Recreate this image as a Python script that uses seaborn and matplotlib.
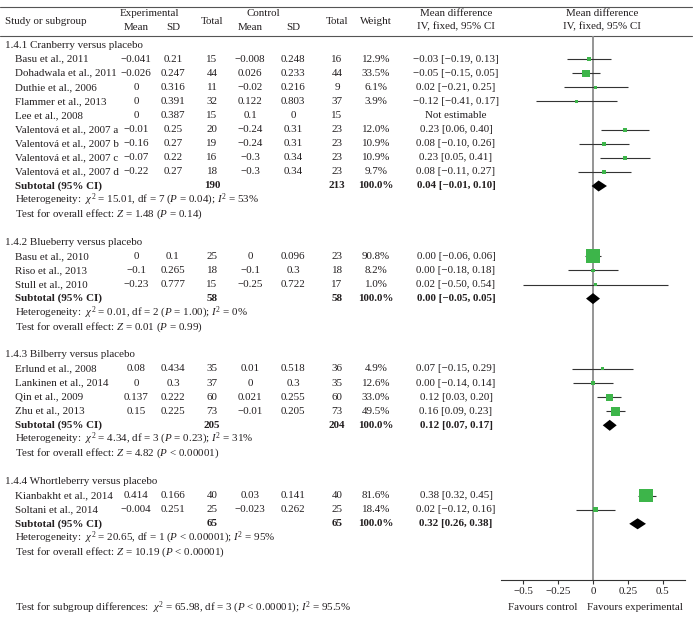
import numpy as np
import pandas as pd
import matplotlib.pyplot as plt
from matplotlib.colors import PowerNorm
import seaborn as sns

# ---- data ----
groups = ["1.4.1 Cranberry versus placebo", "1.4.2 Blueberry versus placebo",
          "1.4.3 Bilberry versus placebo", "1.4.4 Whortleberry versus placebo"]
group_idx = [0]*9 + [1]*3 + [2]*4 + [3]*2
studies = ["Basu et al., 2011", "Dohadwala et al., 2011", "Duthie et al., 2006",
           "Flammer et al., 2013", "Lee et al., 2008", "Valentová et al., 2007 a",
           "Valentová et al., 2007 b", "Valentová et al., 2007 c", "Valentová et al., 2007 d",
           "Basu et al., 2010", "Riso et al., 2013", "Stull et al., 2010",
           "Erlund et al., 2008", "Lankinen et al., 2014", "Qin et al., 2009", "Zhu et al., 2013",
           "Kianbakht et al., 2014", "Soltani et al., 2014"]
exp_mean = [-0.041, -0.026, 0, 0, 0, -0.01, -0.16, -0.07, -0.22,
            0, -0.1, -0.23, 0.08, 0, 0.137, 0.15, 0.414, -0.004]
exp_sd = [0.21, 0.247, 0.316, 0.391, 0.387, 0.25, 0.27, 0.22, 0.27,
          0.1, 0.265, 0.777, 0.434, 0.3, 0.222, 0.225, 0.166, 0.251]
exp_n = [15, 44, 11, 32, 15, 20, 19, 16, 18, 25, 18, 15, 35, 37, 60, 73, 40, 25]
ctl_mean = [-0.008, 0.026, -0.02, 0.122, 0.1, -0.24, -0.24, -0.3, -0.3,
            0, -0.1, -0.25, 0.01, 0, 0.021, -0.01, 0.03, -0.023]
ctl_sd = [0.248, 0.233, 0.216, 0.803, 0, 0.31, 0.31, 0.34, 0.34,
          0.096, 0.3, 0.722, 0.518, 0.3, 0.255, 0.205, 0.141, 0.262]
ctl_n = [16, 44, 9, 37, 15, 23, 23, 23, 23, 23, 18, 17, 36, 35, 60, 73, 40, 25]
weight = [12.9, 33.5, 6.1, 3.9, np.nan, 12.0, 10.9, 10.9, 9.7,
          90.8, 8.2, 1.0, 4.9, 12.6, 33.0, 49.5, 81.6, 18.4]
md = [-0.03, -0.05, 0.02, -0.12, np.nan, 0.23, 0.08, 0.23, 0.08,
      0.00, 0.00, 0.02, 0.07, 0.00, 0.12, 0.16, 0.38, 0.02]
ci_lo = [-0.19, -0.15, -0.21, -0.41, np.nan, 0.06, -0.10, 0.05, -0.11,
         -0.06, -0.18, -0.50, -0.15, -0.14, 0.03, 0.09, 0.32, -0.12]
ci_hi = [0.13, 0.05, 0.25, 0.17, np.nan, 0.40, 0.26, 0.41, 0.27,
         0.06, 0.18, 0.54, 0.29, 0.14, 0.20, 0.23, 0.45, 0.16]

sub_exp_n = [190, 58, 205, 65]
sub_ctl_n = [213, 58, 204, 65]
sub_md = [0.04, 0.00, 0.12, 0.32]
sub_lo = [-0.01, -0.05, 0.07, 0.26]
sub_hi = [0.10, 0.05, 0.17, 0.38]
het_chi2 = [15.01, 0.01, 4.34, 20.65]
het_df = [7, 2, 3, 1]
het_p = ["= 0.04", "= 1.00", "= 0.23", "< 0.00001"]
het_i2 = [53, 0, 31, 95]
z_val = [1.48, 0.01, 4.82, 10.19]
z_p = ["= 0.14", "= 0.99", "< 0.00001", "< 0.00001"]
diff_chi2, diff_df, diff_p, diff_i2 = 65.98, 3, "< 0.00001", 95.5

xticks = [-0.5, -0.25, 0, 0.25, 0.5]

# ---- style ----
sns.set_theme(style="white")
plt.rcParams['font.family'] = ['Liberation Serif', 'DejaVu Serif']
plt.rcParams['mathtext.fontset'] = 'custom'
plt.rcParams['mathtext.rm'] = 'Liberation Serif'
plt.rcParams['mathtext.it'] = 'Liberation Serif:italic'
plt.rcParams['mathtext.bf'] = 'Liberation Serif:bold'

fs = 7.9
tc = '#231f20'
green = '#3db54a'
W, H = 698, 635

def fmt(v):
    return str(v).replace('-', '\u2212')

def fmt2(v):
    return f"{v:.2f}".replace('-', '\u2212')

fig = plt.figure(figsize=(W / 100, H / 100), dpi=100)
bg = fig.add_axes([0, 0, 1, 1])
bg.set_xlim(0, W)
bg.set_ylim(H, 0)
bg.axis('off')

def put(x, y, s, ha='center', bold=False):
    bg.text(x, y, s, ha=ha, va='center', fontsize=fs, color=tc,
            fontweight='bold' if bold else 'normal')

# column centres (pixels)
x_grp, x_st = 5, 15
c_em, c_esd, c_en, c_cm, c_csd, c_cn, c_w, c_ci, c_plot = 136, 173, 212, 250, 293, 337, 376, 456, 602

# header
bg.plot([0, 692], [7, 7], color='#555555', lw=0.8)
bg.plot([0, 692], [36, 36], color='#555555', lw=0.8)
put(x_grp, 21, "Study or subgroup", ha='left')
put(149, 14, "Experimental"); put(c_em, 27, "Mean"); put(c_esd, 27, "SD")
put(c_en, 21, "Total")
put(263, 14, "Control"); put(c_cm, 27, "Mean"); put(c_csd, 27, "SD")
put(c_cn, 21, "Total")
put(c_w, 21, "Weight")
put(c_ci, 14, "Mean difference"); put(c_ci, 27, "IV, fixed, 95% CI")
put(c_plot, 14, "Mean difference"); put(c_plot, 27, "IV, fixed, 95% CI")

# rows
pitch, gap = 14.1, 28.0
y = 45.0
study_y, sub_y = [], []
for g, name in enumerate(groups):
    put(x_grp, y, name, ha='left')
    for i in [k for k, gi in enumerate(group_idx) if gi == g]:
        y += pitch
        study_y.append(y)
        put(x_st, y, studies[i], ha='left')
        put(c_em, y, fmt(exp_mean[i])); put(c_esd, y, fmt(exp_sd[i])); put(c_en, y, fmt(exp_n[i]))
        put(c_cm, y, fmt(ctl_mean[i])); put(c_csd, y, fmt(ctl_sd[i])); put(c_cn, y, fmt(ctl_n[i]))
        if np.isnan(md[i]):
            put(c_ci, y, "Not estimable")
        else:
            put(c_w, y, f"{weight[i]:.1f}%")
            put(c_ci, y, f"{fmt2(md[i])} [{fmt2(ci_lo[i])}, {fmt2(ci_hi[i])}]")
    y += pitch
    sub_y.append(y)
    put(x_st, y, "Subtotal (95% CI)", ha='left', bold=True)
    put(c_en, y, str(sub_exp_n[g]), bold=True)
    put(c_cn, y, str(sub_ctl_n[g]), bold=True)
    put(c_w, y, "100.0%", bold=True)
    put(c_ci, y, f"{fmt2(sub_md[g])} [{fmt2(sub_lo[g])}, {fmt2(sub_hi[g])}]", bold=True)
    y += pitch
    put(x_st, y, f"Heterogeneity:  $\\chi^2$ = {het_chi2[g]:.2f}, df = {het_df[g]} "
                 f"($P$ {het_p[g]}); $I^2$ = {het_i2[g]}%", ha='left')
    y += pitch
    put(x_st, y, f"Test for overall effect: $Z$ = {z_val[g]:.2f} ($P$ {z_p[g]})", ha='left')
    y += gap

put(x_st, 608, f"Test for subgroup differences:  $\\chi^2$ = {diff_chi2:.2f}, df = {diff_df} "
               f"($P$ {diff_p}); $I^2$ = {diff_i2}%", ha='left')
put(577, 608, "Favours control", ha='right')
put(587, 608, "Favours experimental", ha='left')

# ---- forest panel ----
ax = fig.add_axes([501 / W, (H - 580) / H, 184 / W, (580 - 36) / H])
ax.set_xlim(-0.66, 0.66)
ax.set_ylim(580, 36)
ax.patch.set_alpha(0)

df = pd.DataFrame({"md": md, "lo": ci_lo, "hi": ci_hi, "weight": weight, "y": study_y}).dropna()
ax.axvline(0, color='#8c8c8c', lw=1.3, zorder=1)
ax.hlines(df["y"], df["lo"], df["hi"], color='#333333', lw=0.8, zorder=2)
sns.scatterplot(data=df, x="md", y="y", size="weight", sizes=(4, 105),
                size_norm=PowerNorm(1.5, vmin=0, vmax=df["weight"].max()),
                marker='s', color=green, linewidth=0, legend=False, ax=ax, zorder=3)
for g in range(len(groups)):
    ax.fill([sub_lo[g], sub_md[g], sub_hi[g], sub_md[g]],
            [sub_y[g], sub_y[g] - 5.5, sub_y[g], sub_y[g] + 5.5], color='black', zorder=4, lw=0)

for s in ['top', 'right', 'left']:
    ax.spines[s].set_visible(False)
ax.spines['bottom'].set_color('#333333')
ax.spines['bottom'].set_linewidth(0.8)
ax.set_xticks(xticks)
ax.set_xticklabels([fmt(t) for t in xticks], fontsize=fs, color=tc)
ax.tick_params(axis='x', direction='out', length=3, width=0.8, color='#333333', pad=2, bottom=True)
ax.set_yticks([])
ax.set_xlabel("")
ax.set_ylabel("")

fig.savefig("out.png", dpi=100)
